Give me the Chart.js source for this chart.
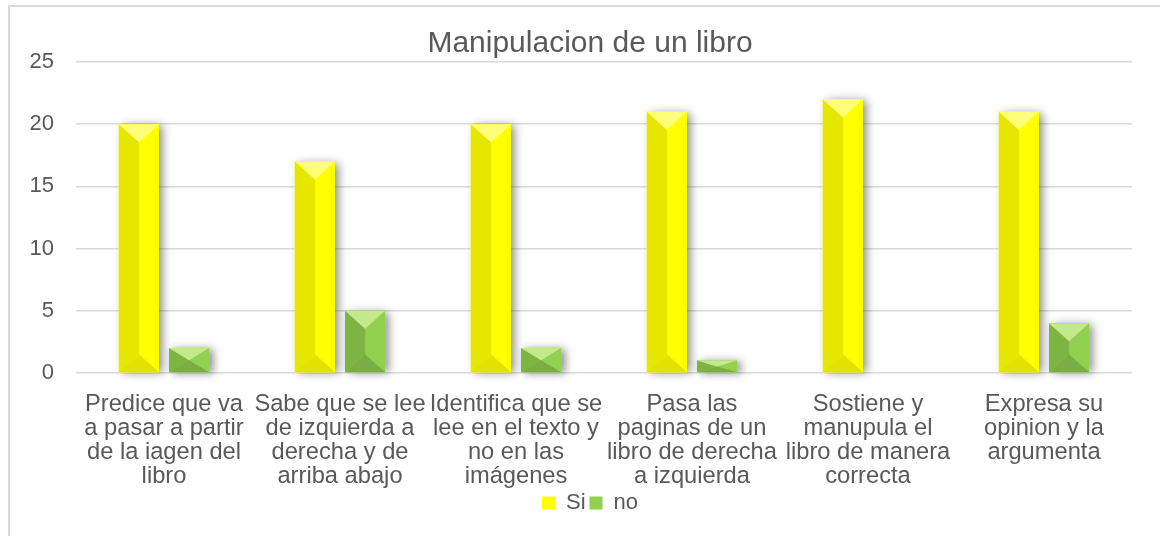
<!DOCTYPE html>
<html>
<head>
<meta charset="utf-8">
<script src="https://cdn.jsdelivr.net/npm/chart.js@4"></script>
<style>
  html, body { margin: 0; padding: 0; background: #fff; overflow: hidden; width: 1160px; height: 536px; }
  #frame { position: absolute; left: 8px; top: 5px; width: 1200px; height: 600px; border-top: 2px solid #D9D9D9; border-left: 2px solid #D9D9D9; }
  #wrap { position: absolute; left: 9px; top: 6px; width: 1151px; height: 530px; }
</style>
</head>
<body>
<div id="frame"></div>
<div id="wrap"><canvas id="c" width="1151" height="530"></canvas></div>
<script>
const title = "Manipulacion de un libro";
const categories = [
  ["Predice que va", "a pasar a partir", "de la iagen del", "libro"],
  ["Sabe que se lee", "de izquierda a", "derecha y de", "arriba abajo"],
  ["Identifica que se", "lee en el texto y", "no en las", "imágenes"],
  ["Pasa las", "paginas de un", "libro de derecha", "a izquierda"],
  ["Sostiene y", "manupula el", "libro de manera", "correcta"],
  ["Expresa su", "opinion y la", "argumenta"]
];
const seriesNames = ["Si", "no"];
const siValues = [20, 17, 20, 21, 22, 21];
const noValues = [2, 5, 2, 1, 0, 4];
const yTicks = [0, 5, 10, 15, 20, 25];

const palette = {
  Si: { main: "#FFFF00", left: "#E6E600", top: "#FFFF7A", bottom: "#E2E200" },
  no: { main: "#92D050", left: "#7DB444", top: "#C2EA8C", bottom: "#7AAE45" }
};

const noLabelClip = (s) => { s._computeLabelArea = () => undefined; };

const bevelPlugin = {
  id: "bevel",
  beforeDatasetsDraw(chart) {
    const ctx = chart.ctx;
    ctx.save();
    chart.data.datasets.forEach((ds, i) => {
      const meta = chart.getDatasetMeta(i);
      meta.data.forEach(bar => {
        const p = bar.getProps(["x", "y", "base", "width"], true);
        const h = p.base - p.y;
        if (h <= 0.5) return;
        ctx.shadowColor = "rgba(0,0,0,0.45)";
        ctx.shadowBlur = 9;
        ctx.shadowOffsetX = 4;
        ctx.shadowOffsetY = 1;
        ctx.fillStyle = "#ffffff";
        ctx.fillRect(p.x - p.width / 2, p.y, p.width, h);
      });
    });
    ctx.restore();
  },
  afterDatasetsDraw(chart) {
    const ctx = chart.ctx;
    ctx.save();
    chart.data.datasets.forEach((ds, i) => {
      const col = palette[ds.label];
      const meta = chart.getDatasetMeta(i);
      meta.data.forEach(bar => {
        const p = bar.getProps(["x", "y", "base", "width"], true);
        const h = p.base - p.y;
        if (h <= 0.5) return;
        const l = p.x - p.width / 2, r = p.x + p.width / 2, t = p.y, b = p.base, cx = p.x;
        const d = Math.min(p.width * 0.45, h / 2);
        ctx.fillStyle = col.main;
        ctx.fillRect(l, t, p.width, h);
        ctx.fillStyle = col.left;
        ctx.beginPath();
        ctx.moveTo(l, t); ctx.lineTo(cx, t + d); ctx.lineTo(cx, b - d); ctx.lineTo(l, b); ctx.closePath(); ctx.fill();
        ctx.fillStyle = col.top;
        ctx.beginPath();
        ctx.moveTo(l, t); ctx.lineTo(r, t); ctx.lineTo(cx, t + d); ctx.closePath(); ctx.fill();
        ctx.fillStyle = col.bottom;
        ctx.beginPath();
        ctx.moveTo(l, b); ctx.lineTo(r, b); ctx.lineTo(cx, b - d); ctx.closePath(); ctx.fill();
      });
    });
    ctx.restore();
  }
};

new Chart(document.getElementById("c"), {
  type: "bar",
  data: {
    labels: categories,
    datasets: [
      { label: seriesNames[0], data: siValues, backgroundColor: "#FFFF00", borderWidth: 0,
        barPercentage: 0.8, categoryPercentage: 0.57 },
      { label: seriesNames[1], data: noValues, backgroundColor: "#92D050", borderWidth: 0,
        barPercentage: 0.8, categoryPercentage: 0.57 }
    ]
  },
  options: {
    responsive: false,
    animation: false,
    layout: { padding: { left: 39, right: 28, top: 0, bottom: 12 } },
    plugins: {
      title: {
        display: true, text: title, color: "#595959",
        font: { family: "Liberation Sans", size: 30, weight: "normal" },
        padding: { top: 20, bottom: 0 }
      },
      legend: {
        position: "bottom",
        labels: {
          color: "#595959", boxWidth: 13, boxHeight: 13, padding: 4,
          font: { family: "Liberation Sans", size: 22 }
        }
      },
      tooltip: { enabled: false }
    },
    scales: {
      x: {
        afterFit: (s) => { s.height = s.height - 19; noLabelClip(s); },
        grid: { display: false, drawTicks: false },
        border: { display: false },
        ticks: {
          color: "#595959", padding: 19, maxRotation: 0, minRotation: 0, autoSkip: false,
          font: { family: "Liberation Sans", size: 23.7, lineHeight: "24px" }
        }
      },
      y: {
        min: 0, max: 25,
        afterBuildTicks: (s) => { s.ticks = yTicks.map(v => ({ value: v })); },
        afterFit: (s) => { s.width = 28; noLabelClip(s); },
        grid: { color: "#D9D9D9", lineWidth: 1.5, drawTicks: false },
        border: { display: false },
        ticks: {
          color: "#595959", padding: 22,
          font: { family: "Liberation Sans", size: 22 }
        }
      }
    }
  },
  plugins: [bevelPlugin]
});
</script>
</body>
</html>
